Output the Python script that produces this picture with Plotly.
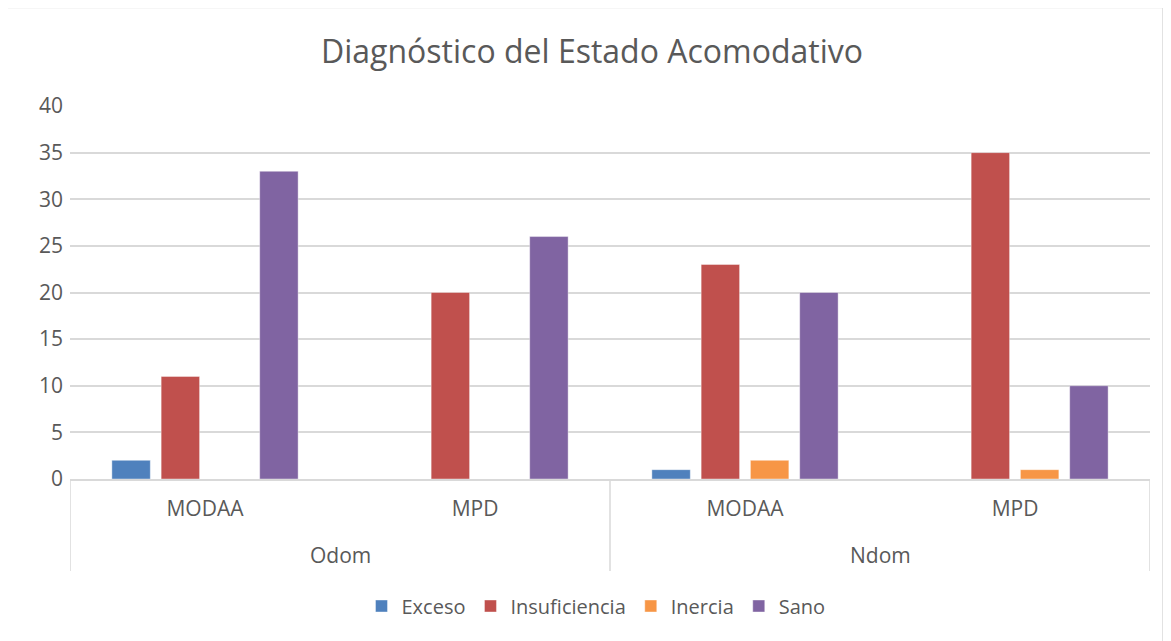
import plotly.graph_objects as go

groups = ["Odom", "Odom", "Ndom", "Ndom"]
subcats = ["MODAA", "MPD", "MODAA", "MPD"]
group_labels = ["Odom", "Ndom"]
series_names = ["Exceso", "Insuficiencia", "Inercia", "Sano"]
exceso = [2, 0, 1, 0]
insuficiencia = [11, 20, 23, 35]
inercia = [0, 0, 2, 1]
sano = [33, 26, 20, 10]
colors = ["#4f81bd", "#c0504d", "#f79646", "#8064a2"]
yticks = [0, 5, 10, 15, 20, 25, 30, 35, 40]

xpos = list(range(len(subcats)))
font = "Open Sans, Liberation Sans, sans-serif"
gray = "#595959"

fig = go.Figure()
for name, vals, col in zip(series_names, [exceso, insuficiencia, inercia, sano], colors):
    fig.add_trace(go.Bar(
        x=xpos, y=vals, name=name,
        marker=dict(color=col, line=dict(color="rgba(255,255,255,0.4)", width=1)),
    ))

# page body has an 8px margin: work in figure coordinates = screen - 8
OFF = 8
W, H = 1163, 633
L, R, T, B = 70 - OFF, 1150 - OFF, 106 - OFF, 479 - OFF
ph = B - T
pw = R - L

def py(ypix):
    return (B - (ypix - OFF)) / ph

def px(xpix):
    return ((xpix - OFF) - L) / pw

shapes = []
for xv in [-0.5, 1.5, 3.5]:
    shapes.append(dict(type="line", xref="x", yref="paper", x0=xv, x1=xv,
                       y0=0, y1=py(571), line=dict(color="#d9d9d9", width=1.5)))
# chart border
shapes.append(dict(type="rect", xref="paper", yref="paper",
                   x0=px(6.5), x1=px(1163), y0=py(660), y1=py(7.5),
                   line=dict(color="#d9d9d9", width=1.5), fillcolor="rgba(0,0,0,0)", layer="below"))

annotations = []
for i, g in enumerate(group_labels):
    annotations.append(dict(x=2 * i + 0.5, xref="x", y=py(555), yref="paper",
                            text=g, showarrow=False, yanchor="middle",
                            font=dict(family=font, size=21, color=gray)))

fig.update_layout(
    width=W, height=H,
    margin=dict(l=L, r=W - R, t=T, b=H - B),
    paper_bgcolor="white", plot_bgcolor="white",
    barmode="group", bargap=0.27, bargroupgap=0.22,
    title=dict(text="Diagnóstico del Estado Acomodativo", x=(592 - OFF) / W, xanchor="center",
               y=1 - (52 - OFF) / H, yanchor="middle",
               font=dict(family=font, size=32, color=gray)),
    xaxis=dict(range=[-0.5, 3.5], tickvals=xpos, ticktext=subcats, showgrid=False,
               showline=True, linecolor="#d9d9d9", linewidth=1.5, ticks="",
               tickfont=dict(family=font, size=21, color=gray), ticklabelstandoff=10,
               zeroline=False, fixedrange=True),
    yaxis=dict(range=[0, 40], tickvals=yticks, showgrid=True, gridcolor="#d9d9d9", gridwidth=1.5,
               zeroline=False, showline=False, ticks="",
               tickfont=dict(family=font, size=21, color=gray), ticklabelstandoff=6),
    legend=dict(orientation="h", x=(596 - OFF) / W, xref="container", xanchor="center",
                y=1 - (606 - OFF) / H, yref="container", yanchor="middle",
                font=dict(family=font, size=20, color=gray), itemwidth=30,
                traceorder="normal"),
    shapes=shapes, annotations=annotations,
)

fig.write_html("out.html")
